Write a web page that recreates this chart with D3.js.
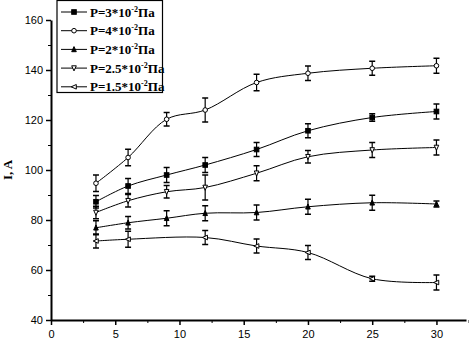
<!DOCTYPE html>
<html><head><meta charset="utf-8">
<script src="https://cdn.jsdelivr.net/npm/d3@7"></script>
<style>body{margin:0;background:#fff}svg{display:block}</style>
</head><body><svg id="c" width="469" height="340"></svg>
<script>
const xVals = [3.5, 6, 9, 12, 16, 20, 25, 30];
const xVals15 = [3.5, 6, 12, 16, 20, 25, 30];
const p4 = [94.7, 105, 120.3, 124, 135, 138.7, 140.7, 141.7];
const p4Err = [3.3, 3.3, 2.7, 4.8, 3.3, 2.9, 2.8, 3];
const p3 = [87.3, 93.6, 98, 102, 108.2, 115.7, 121, 123.4];
const p3Err = [2.5, 3, 3, 3, 2.8, 2.8, 1.5, 3];
const p25 = [83, 87.7, 91.3, 93, 98.7, 105.3, 108, 109];
const p25Err = [2.5, 2.5, 2.5, 5, 3, 2.5, 3, 3];
const p2 = [76.9, 78.9, 80.7, 82.7, 83, 85.3, 86.9, 86.4];
const p2Err = [2.8, 2.5, 3, 3, 3, 3, 3, 1.2];
const p15 = [71.6, 72.3, 73, 69.6, 67, 56.5, 55];
const p15Err = [2.8, 3.2, 2.8, 2.8, 2.8, 1, 3];
const xTicks = [0, 5, 10, 15, 20, 25, 30];
const yTicks = [40, 60, 80, 100, 120, 140, 160];

const series = [
  {name: "3", exp: "-2", x: xVals, y: p3, e: p3Err, sym: "square", fill: "#000"},
  {name: "4", exp: "-2", x: xVals, y: p4, e: p4Err, sym: "circle", fill: "#fff"},
  {name: "2", exp: "-2", x: xVals, y: p2, e: p2Err, sym: "triup", fill: "#000"},
  {name: "2.5", exp: "-2", x: xVals, y: p25, e: p25Err, sym: "tridown", fill: "#fff"},
  {name: "1.5", exp: "-2", x: xVals15, y: p15, e: p15Err, sym: "trileft", fill: "#fff"}
];

const svg = d3.select("#c");
const x = d3.scaleLinear().domain([0, 32.3]).range([51, 466]);
const y = d3.scaleLinear().domain([40, 160]).range([320, 20]);

// axes
const xAxis = d3.axisBottom(x).tickValues(xTicks).tickSize(5).tickSizeOuter(0);
const gx = svg.append("g").attr("transform", "translate(0,320)").call(xAxis);
gx.select(".domain").attr("stroke-width", 2);
gx.selectAll(".tick line").attr("stroke-width", 1.5);
gx.selectAll("text").attr("font-family", "Arial, Liberation Sans, sans-serif").attr("font-size", 11).attr("dy", "0.9em");
svg.append("g").attr("transform", "translate(0,320)")
  .call(d3.axisBottom(x).tickValues(d3.range(2.5, 33, 5)).tickSize(3).tickFormat(""))
  .call(g => g.select(".domain").remove());

const yAxis = d3.axisLeft(y).tickValues(yTicks).tickSize(5).tickSizeOuter(0);
const gy = svg.append("g").attr("transform", "translate(51,0)").call(yAxis);
gy.select(".domain").attr("stroke-width", 2);
gy.selectAll(".tick line").attr("stroke-width", 1.5);
gy.selectAll("text").attr("font-family", "Arial, Liberation Sans, sans-serif").attr("font-size", 11);
svg.append("g").attr("transform", "translate(51,0)")
  .call(d3.axisLeft(y).tickValues(d3.range(50, 160, 20)).tickSize(3).tickFormat(""))
  .call(g => g.select(".domain").remove());

svg.append("text").attr("transform", "translate(12,170) rotate(-90)")
  .attr("text-anchor", "middle").attr("font-family", "Liberation Serif, Times New Roman, serif")
  .attr("font-weight", "bold").attr("font-size", 13).text("I, A");

function drawSym(g, sym, cx, cy, fill) {
  const s = 2.3;
  let el;
  if (sym === "square") el = g.append("rect").attr("x", cx - s).attr("y", cy - s).attr("width", 2*s).attr("height", 2*s);
  else if (sym === "circle") el = g.append("circle").attr("cx", cx).attr("cy", cy).attr("r", s);
  else {
    let pts;
    if (sym === "triup") pts = [[cx, cy - s - 0.5], [cx + s, cy + s], [cx - s, cy + s]];
    else if (sym === "tridown") pts = [[cx - s, cy - s], [cx + s, cy - s], [cx, cy + s + 0.5]];
    else pts = [[cx - s - 0.5, cy], [cx + s, cy - s], [cx + s, cy + s]];
    el = g.append("polygon").attr("points", pts.map(p => p.join(",")).join(" "));
  }
  el.attr("fill", fill).attr("stroke", "#000").attr("stroke-width", 1);
}

const line = d3.line().x(d => x(d[0])).y(d => y(d[1])).curve(d3.curveCatmullRom.alpha(0.5));
series.forEach(s => {
  const pts = s.x.map((xv, i) => [xv, s.y[i], s.e[i]]);
  const g = svg.append("g");
  g.append("path").attr("d", line(pts)).attr("fill", "none").attr("stroke", "#000").attr("stroke-width", 1);
  pts.forEach(p => {
    const cx = x(p[0]), y1 = y(p[1] + p[2]), y2 = y(p[1] - p[2]);
    g.append("line").attr("x1", cx).attr("x2", cx).attr("y1", y1).attr("y2", y2).attr("stroke", "#000").attr("stroke-width", 1.2);
    [y1, y2].forEach(yy => g.append("line").attr("x1", cx - 3).attr("x2", cx + 3).attr("y1", yy).attr("y2", yy).attr("stroke", "#000").attr("stroke-width", 1.5));
    drawSym(g, s.sym, cx, y(p[1]), s.fill);
  });
});

// legend
const lg = svg.append("g");
lg.append("rect").attr("x", 57).attr("y", 0.5).attr("width", 105.5).attr("height", 92).attr("fill", "#fff").attr("stroke", "#000").attr("stroke-width", 1.2);
series.forEach((s, i) => {
  const yy = 12 + i * 18.7;
  lg.append("line").attr("x1", 61).attr("x2", 87).attr("y1", yy).attr("y2", yy).attr("stroke", "#000").attr("stroke-width", 1);
  drawSym(lg, s.sym, 74, yy, s.fill);
  const t = lg.append("text").attr("x", 90).attr("y", yy + 4.5)
    .attr("font-family", "Liberation Serif, Times New Roman, serif").attr("font-weight", "bold").attr("font-size", 13);
  t.append("tspan").text("P=" + s.name + "*10");
  t.append("tspan").attr("font-size", 8).attr("dy", -5).text(s.exp);
  t.append("tspan").attr("dy", 5).text("Па");
});
</script></body></html>
